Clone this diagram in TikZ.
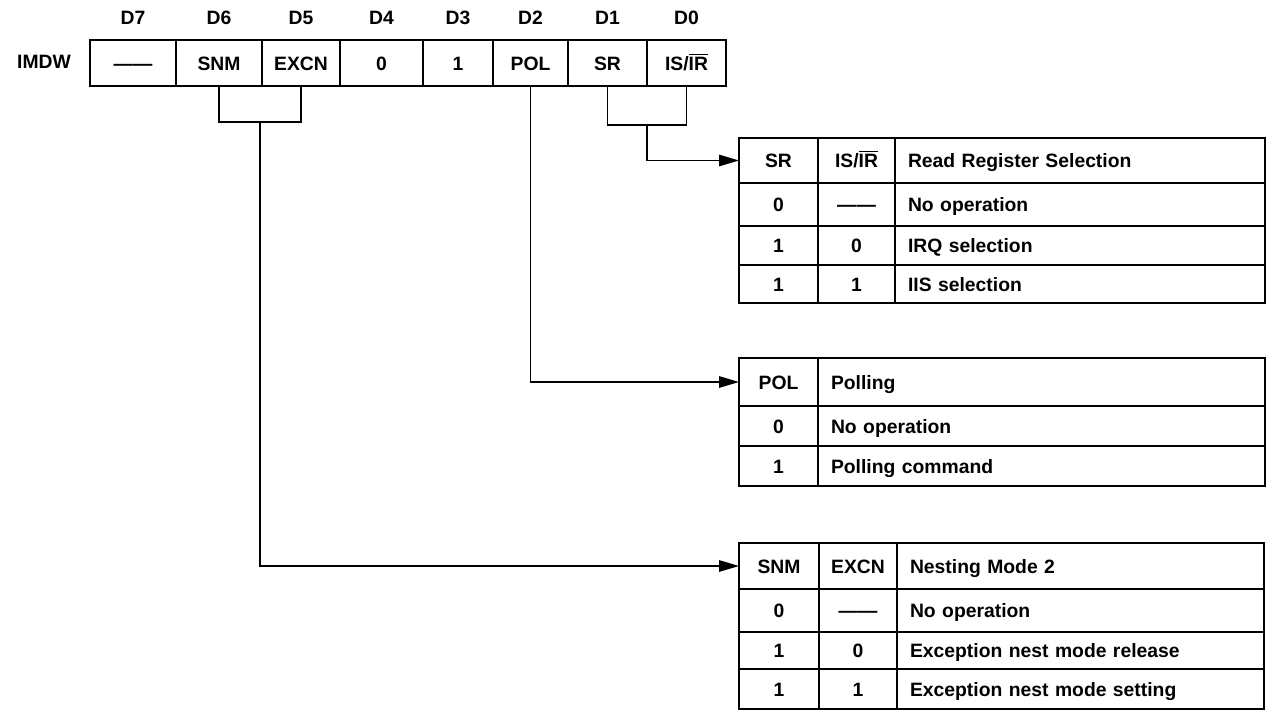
\documentclass[tikz,border=0pt]{standalone}
\usepackage{fontspec}
\setmainfont{Liberation Sans}
\usetikzlibrary{arrows.meta,positioning,calc}

\begin{document}
\begin{tikzpicture}[>={Triangle[length=4mm,width=2.3mm]},
  font=\fontsize{11}{13}\selectfont\bfseries,
  cell/.style={draw,line width=0.6pt,outer sep=0pt,inner sep=0pt,text height=8pt,text depth=0pt},
  desc/.style={cell,align=left,inner xsep=0.26cm,text width=#1},
  frame/.style={line width=1.4pt},
  conn/.style={line width=0.8pt}]
\useasboundingbox (0,0) rectangle (25.4,-14.26);

% register IMDW
\node (imdw) at (0.88,-1.24) {IMDW};
\node[cell,minimum width=1.72cm,minimum height=0.92cm] (d7) at (2.66,-1.26) {——};
\node[cell,minimum width=1.72cm,minimum height=0.92cm,right=0pt of d7] (d6) {SNM};
\node[cell,minimum width=1.56cm,minimum height=0.92cm,right=0pt of d6] (d5) {EXCN};
\node[cell,minimum width=1.66cm,minimum height=0.92cm,right=0pt of d5] (d4) {0};
\node[cell,minimum width=1.40cm,minimum height=0.92cm,right=0pt of d4] (d3) {1};
\node[cell,minimum width=1.50cm,minimum height=0.92cm,right=0pt of d3] (d2) {POL};
\node[cell,minimum width=1.58cm,minimum height=0.92cm,right=0pt of d2] (d1) {SR};
\node[cell,minimum width=1.58cm,minimum height=0.92cm,right=0pt of d1] (d0) {IS/$\overline{\mbox{IR}}$};
\draw[frame] (d7.north west) rectangle (d0.south east);

% bit numbers
\node (l7) at ([yshift=0.44cm]d7.north) {D7};
\node (l6) at ([yshift=0.44cm]d6.north) {D6};
\node (l5) at ([yshift=0.44cm]d5.north) {D5};
\node (l4) at ([yshift=0.44cm]d4.north) {D4};
\node (l3) at ([yshift=0.44cm]d3.north) {D3};
\node (l2) at ([yshift=0.44cm]d2.north) {D2};
\node (l1) at ([yshift=0.44cm]d1.north) {D1};
\node (l0) at ([yshift=0.44cm]d0.north) {D0};

% read register selection
\node[cell,minimum width=1.58cm,minimum height=0.90cm,anchor=north west] (rd11) at (14.78,-2.76) {SR};
\node[cell,minimum width=1.54cm,minimum height=0.90cm,right=0pt of rd11] (rd12) {IS/$\overline{\mbox{IR}}$};
\node[desc=6.88cm,minimum height=0.90cm,right=0pt of rd12] (rd13) {Read Register Selection};
\node[cell,minimum width=1.58cm,minimum height=0.86cm,below=0pt of rd11] (rd21) {0};
\node[cell,minimum width=1.54cm,minimum height=0.86cm,right=0pt of rd21] (rd22) {——};
\node[desc=6.88cm,minimum height=0.86cm,right=0pt of rd22] (rd23) {No operation};
\node[cell,minimum width=1.58cm,minimum height=0.78cm,below=0pt of rd21] (rd31) {1};
\node[cell,minimum width=1.54cm,minimum height=0.78cm,right=0pt of rd31] (rd32) {0};
\node[desc=6.88cm,minimum height=0.78cm,right=0pt of rd32] (rd33) {IRQ selection};
\node[cell,minimum width=1.58cm,minimum height=0.76cm,below=0pt of rd31] (rd41) {1};
\node[cell,minimum width=1.54cm,minimum height=0.76cm,right=0pt of rd41] (rd42) {1};
\node[desc=6.88cm,minimum height=0.76cm,right=0pt of rd42] (rd43) {IIS selection};
\draw[frame] (rd11.north west) rectangle (rd43.south east);

% polling
\node[cell,minimum width=1.58cm,minimum height=0.96cm,anchor=north west] (pl11) at (14.78,-7.16) {POL};
\node[desc=8.42cm,minimum height=0.96cm,right=0pt of pl11] (pl12) {Polling};
\node[cell,minimum width=1.58cm,minimum height=0.80cm,below=0pt of pl11] (pl21) {0};
\node[desc=8.42cm,minimum height=0.80cm,right=0pt of pl21] (pl22) {No operation};
\node[cell,minimum width=1.58cm,minimum height=0.80cm,below=0pt of pl21] (pl31) {1};
\node[desc=8.42cm,minimum height=0.80cm,right=0pt of pl31] (pl32) {Polling command};
\draw[frame] (pl11.north west) rectangle (pl32.south east);

% nesting mode 2
\node[cell,minimum width=1.60cm,minimum height=0.92cm,anchor=north west] (nm11) at (14.78,-10.86) {SNM};
\node[cell,minimum width=1.56cm,minimum height=0.92cm,right=0pt of nm11] (nm12) {EXCN};
\node[desc=6.82cm,minimum height=0.92cm,right=0pt of nm12] (nm13) {Nesting Mode 2};
\node[cell,minimum width=1.60cm,minimum height=0.86cm,below=0pt of nm11] (nm21) {0};
\node[cell,minimum width=1.56cm,minimum height=0.86cm,right=0pt of nm21] (nm22) {——};
\node[desc=6.82cm,minimum height=0.86cm,right=0pt of nm22] (nm23) {No operation};
\node[cell,minimum width=1.60cm,minimum height=0.74cm,below=0pt of nm21] (nm31) {1};
\node[cell,minimum width=1.56cm,minimum height=0.74cm,right=0pt of nm31] (nm32) {0};
\node[desc=6.82cm,minimum height=0.74cm,right=0pt of nm32] (nm33) {Exception nest mode release};
\node[cell,minimum width=1.60cm,minimum height=0.80cm,below=0pt of nm31] (nm41) {1};
\node[cell,minimum width=1.56cm,minimum height=0.80cm,right=0pt of nm41] (nm42) {1};
\node[desc=6.82cm,minimum height=0.80cm,right=0pt of nm42] (nm43) {Exception nest mode setting};
\draw[frame] (nm11.north west) rectangle (nm43.south east);

% connectors
\coordinate (j1) at ($(d6.south)!0.5!(d5.south)+(0,-0.72)$);
\draw[conn] (d6.south) |- (j1) -| (d5.south);
\draw[conn,->] (j1) |- (nm11.west);
\draw[conn,->] (d2.south) |- (pl11.west);
\coordinate (j2) at ($(d1.south)!0.5!(d0.south)+(0,-0.78)$);
\draw[conn] (d1.south) |- (j2) -| (d0.south);
\draw[conn,->] (j2) |- (rd11.west);
\end{tikzpicture}
\end{document}
